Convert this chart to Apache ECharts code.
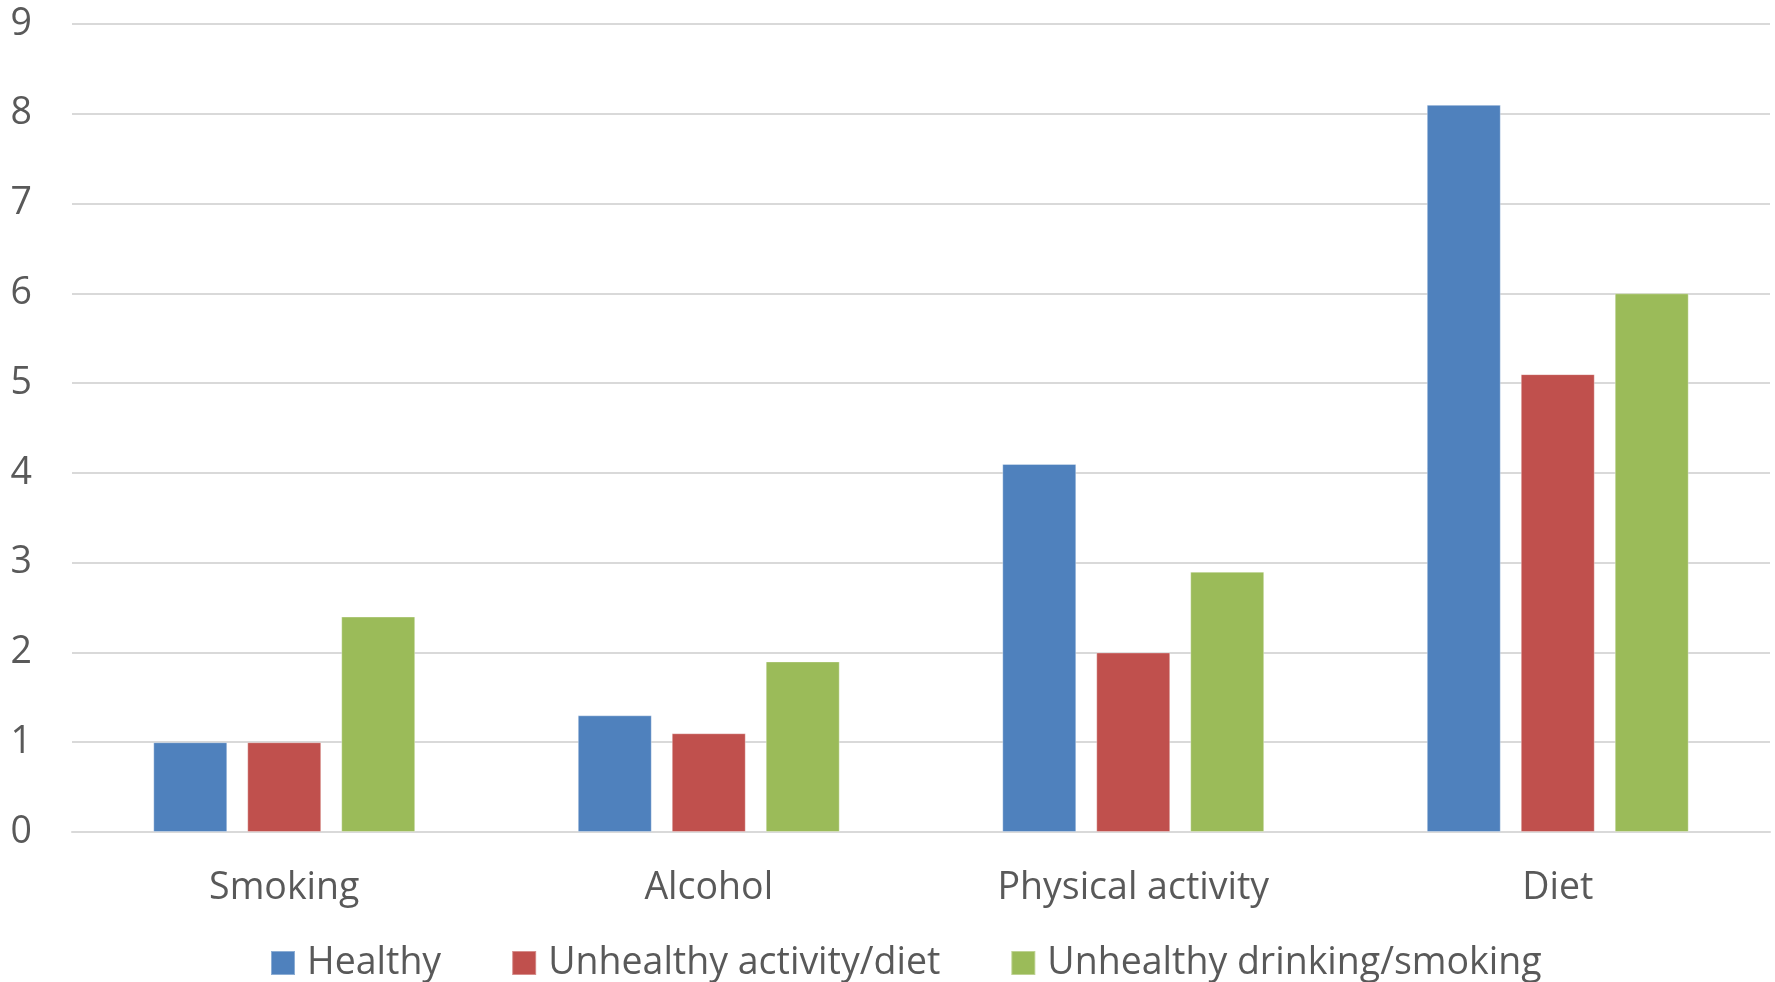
<!DOCTYPE html>
<html>
<head>
<meta charset="utf-8">
<script src="https://cdn.jsdelivr.net/npm/echarts@6/dist/echarts.min.js"></script>
<style>
  html, body { margin: 0; padding: 0; background: #fff; }
  #chart { width: 1775px; height: 982px; }
</style>
</head>
<body>
<div id="chart"></div>
<script>
// Lifestyle factors by group
const categories = ['Smoking', 'Alcohol', 'Physical activity', 'Diet'];
const seriesNames = ['Healthy', 'Unhealthy activity/diet', 'Unhealthy drinking/smoking'];
const healthy = [1.0, 1.3, 4.1, 8.1];
const unhealthyActivityDiet = [1.0, 1.1, 2.0, 5.1];
const unhealthyDrinkingSmoking = [2.4, 1.9, 2.9, 6.0];
const yTicks = [0, 1, 2, 3, 4, 5, 6, 7, 8, 9];

const colors = ['#4F81BD', '#C0504D', '#9BBB59'];
const textColor = '#595959';
const fontFamily = '"Open Sans", "Noto Sans", sans-serif';
const fontSize = 37.5;

const chart = echarts.init(document.getElementById('chart'), null, { renderer: 'canvas' });

const values = [healthy, unhealthyActivityDiet, unhealthyDrinkingSmoking];

chart.setOption({
  animation: false,
  backgroundColor: '#ffffff',
  color: colors,
  grid: { left: 72, right: 5, top: 24, bottom: 150, containLabel: false },
  legend: {
    left: 270,
    top: 944,
    padding: 0,
    itemWidth: 24,
    itemHeight: 24,
    itemGap: 70,
    icon: 'rect',
    data: seriesNames,
    textStyle: { color: textColor, fontSize: fontSize, fontFamily: fontFamily, padding: [0, 0, 0, 7] }
  },
  xAxis: {
    type: 'category',
    data: categories,
    axisLine: { show: true, lineStyle: { color: '#d9d9d9', width: 2 } },
    axisTick: { show: false },
    axisLabel: { color: textColor, fontSize: fontSize, fontFamily: fontFamily, margin: 37 }
  },
  yAxis: {
    type: 'value',
    min: yTicks[0],
    max: yTicks[yTicks.length - 1],
    interval: 1,
    axisLine: { show: false },
    axisTick: { show: false },
    splitLine: { lineStyle: { color: '#d9d9d9', width: 2 } },
    axisLabel: { color: textColor, fontSize: fontSize, fontFamily: fontFamily, margin: 40 }
  },
  series: seriesNames.map((name, i) => ({
    name: name,
    type: 'bar',
    data: values[i],
    barWidth: 74,
    barGap: '27%',
    itemStyle: { color: colors[i], borderColor: 'rgba(255,255,255,0.35)', borderWidth: 1 }
  }))
});
</script>
</body>
</html>
